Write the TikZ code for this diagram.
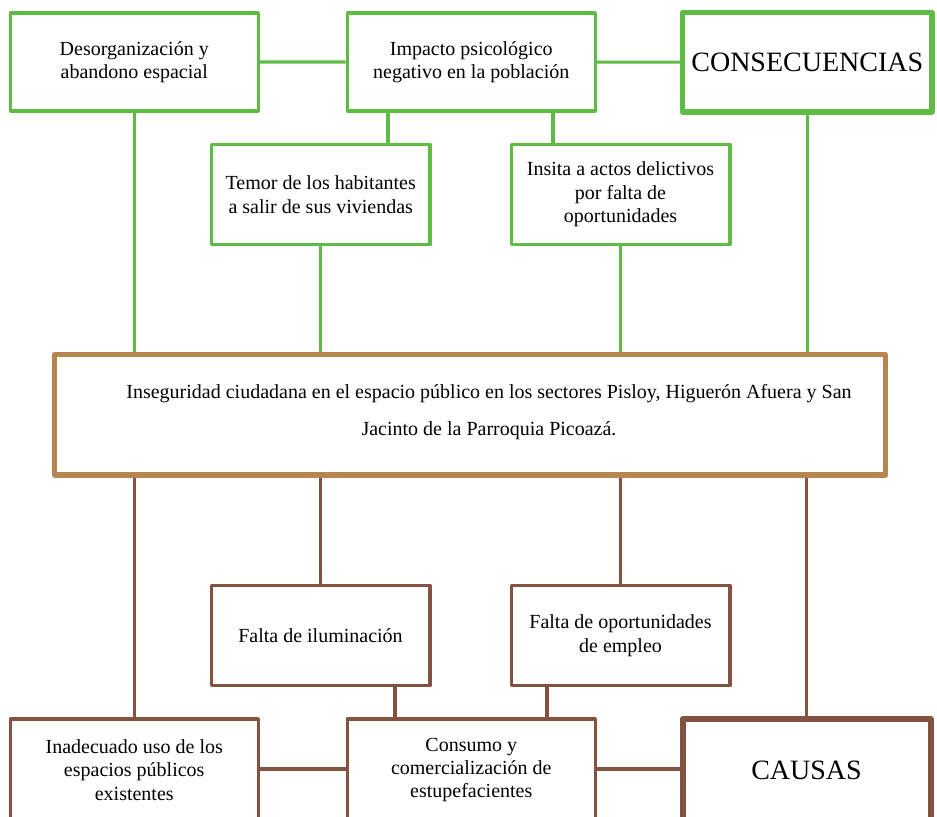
\documentclass[tikz,border=0pt]{standalone}
\usepackage{fontspec}
\setmainfont{Liberation Serif}
\usetikzlibrary{backgrounds}
\definecolor{verde}{RGB}{93,187,70}
\definecolor{cafe}{RGB}{131,82,65}
\definecolor{ocre}{RGB}{183,134,78}
\begin{document}
\begin{tikzpicture}[x=0.75pt, y=-0.75pt, line join=round, line cap=round,
	caja/.style={draw, line width=2.5pt, fill=white, text=black, align=center, inner sep=2pt,
		font=\fontsize{15}{17.6}\selectfont},
	ancha/.style={caja, minimum width=186pt, minimum height=73.5pt},
	media/.style={caja, minimum width=164pt, minimum height=75pt},
	titulo/.style={caja, line width=4pt, minimum width=187pt, minimum height=74.5pt,
		font=\fontsize{21}{24}\selectfont},
	linea/.style={line width=2.3pt}]
	%%%%%%%%%%%%%%%%%%%%%%%%%%%%%%%%%
	\clip (0,0) rectangle (937,816);
	%%%%%%%%%%%%%%%%%%%%%%%%%%%%%%%%%
	\begin{scope}[every node/.append style={draw=verde}]
		\node[ancha] (desorg) at (134.25,62) {Desorganización y\\abandono espacial};
		\node[ancha] (impacto) at (471.25,62) {Impacto psicológico\\negativo en la población};
		\node[titulo] (consec) at (807.25,62.25) {CONSECUENCIAS};
		\node[media] (temor) at (320.75,194.5) {Temor de los habitantes\\a salir de sus viviendas};
		\node[media] (insita) at (620.5,194.5) {Insita a actos delictivos\\por falta de\\oportunidades};
	\end{scope}
	%%%%%%%%%%%%%%%%%%%%%%%%%%%%%%%%%
	\node[caja, draw=ocre, line width=3.8pt, minimum width=623.25pt, minimum height=90.4pt] (prob) at (470,414.75) {};
	\node[align=center, font=\fontsize{15}{27.75}\selectfont] (probtxt) at ([xshift=14.25pt,yshift=2pt]prob.center)
		{Inseguridad ciudadana en el espacio público en los sectores Pisloy, Higuerón Afuera y San\\
		Jacinto de la Parroquia Picoazá.};
	%%%%%%%%%%%%%%%%%%%%%%%%%%%%%%%%%
	\begin{scope}[every node/.append style={draw=cafe}]
		\node[media] (ilum) at (320.5,635.5) {Falta de iluminación};
		\node[media] (oport) at (620.5,635.5) {Falta de oportunidades\\de empleo};
		\node[ancha, minimum height=76.5pt] (inadec) at (134.25,770) {Inadecuado uso de los\\espacios públicos\\existentes};
		\node[ancha, minimum height=76.5pt] (consumo) at (471.25,770) {Consumo y\\comercialización de\\estupefacientes};
		\node[titulo, line width=4.5pt, minimum width=186pt, minimum height=76.5pt] (causas) at (806.5,770) {CAUSAS};
	\end{scope}
	%%%%%%%%%%%%%%%%%%%%%%%%%%%%%%%%%
	\begin{scope}[on background layer]
		\begin{scope}[linea, verde]
			\draw (desorg) -- (impacto) -- (consec);
			\draw (impacto.south -| 388,0) -- (temor.north -| 388,0);
			\draw (impacto.south -| 553,0) -- (insita.north -| 553,0);
			\draw (desorg.south) -- (desorg.south |- prob.north);
			\draw (temor.south) -- (temor.south |- prob.north);
			\draw (insita.south) -- (insita.south |- prob.north);
			\draw (consec.south) -- (consec.south |- prob.north);
		\end{scope}
		\begin{scope}[linea, cafe]
			\draw (inadec.north) -- (inadec.north |- prob.south);
			\draw (ilum.north) -- (ilum.north |- prob.south);
			\draw (oport.north) -- (oport.north |- prob.south);
			\draw (causas.north) -- (causas.north |- prob.south);
			\draw (ilum.south -| 395,0) -- (consumo.north -| 395,0);
			\draw (oport.south -| 547,0) -- (consumo.north -| 547,0);
			\draw (inadec.east |- 0,769) -- (consumo.west |- 0,769);
			\draw (consumo.east |- 0,769) -- (causas.west |- 0,769);
		\end{scope}
	\end{scope}
	%%%%%%%%%%%%%%%%%%%%%%%%%%%%%%%%%
\end{tikzpicture}
\end{document}
